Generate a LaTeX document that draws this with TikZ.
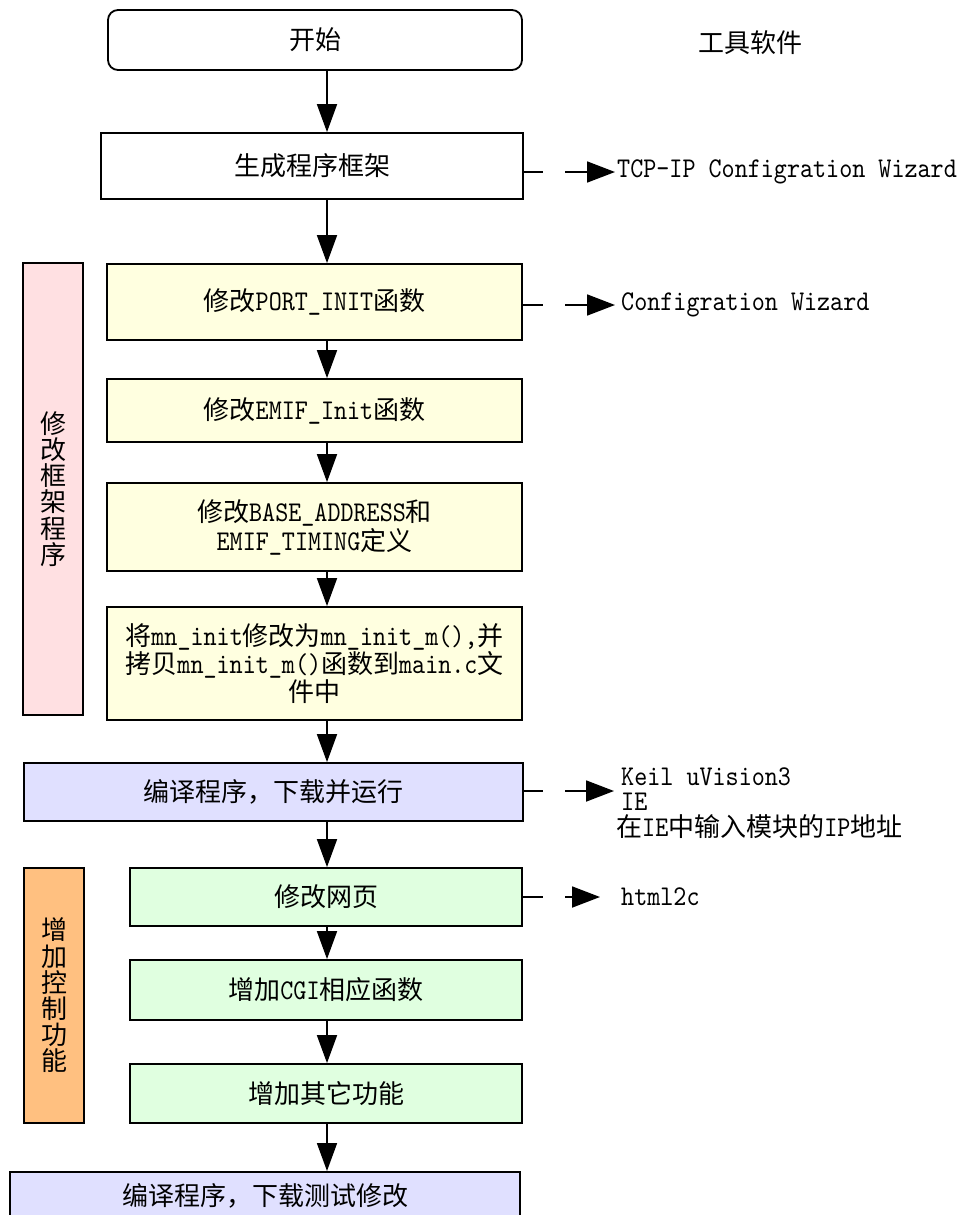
\documentclass[tikz,border=0pt]{standalone}
\usepackage{fontspec}
\setmainfont{Noto Sans CJK SC}
\newfontfamily\monofam[Scale=1.1,FakeStretch=0.87]{lmmono10-regular.otf}
\newcommand\mylat[1]{{\monofam #1}}
\usetikzlibrary{arrows.meta}
\definecolor{cyellow}{HTML}{FFFFE0}
\definecolor{cpink}{HTML}{FFE0E2}
\definecolor{clav}{HTML}{E0E0FF}
\definecolor{cgreen}{HTML}{E0FFE0}
\definecolor{corange}{HTML}{FFC080}
\begin{document}
\begin{tikzpicture}[x=1pt,y=-1pt,
  font=\fontsize{26}{29}\selectfont,
  box/.style={draw, line width=1.8pt, inner sep=0pt, align=center},
  flow/.style={line width=1.8pt, -{Triangle[length=28pt,width=20pt]}},
  tool/.style={line width=1.8pt, -{Triangle[length=28pt,width=21pt]}},
  tick/.style={line width=1.8pt},
  lbl/.style={inner sep=0pt, anchor=west, align=left}]
\useasboundingbox (0,0) rectangle (971,1215);
\clip (0,0) rectangle (971,1215);
\fill[white] (0,0) rectangle (971,1215);

% main column
\node[box, rounded corners=10pt, minimum width=414pt, minimum height=60pt] (start) at (315,40) {开始};
\node[box, minimum width=422pt, minimum height=66pt] (gen) at (312,166) {生成程序框架};
\node[box, fill=cyellow, minimum width=415pt, minimum height=76pt] (port) at (314.5,302) {修改\mylat{PORT\_INIT}函数};
\node[box, fill=cyellow, minimum width=415pt, minimum height=63pt] (emif) at (314.5,410.5) {修改\mylat{EMIF\_Init}函数};
\node[box, fill=cyellow, minimum width=415pt, minimum height=88pt] (base) at (314.5,527) {修改\mylat{BASE\_ADDRESS}和\\\mylat{EMIF\_TIMING}定义};
\node[box, fill=cyellow, minimum width=415pt, minimum height=113pt, font=\fontsize{26}{26.5}\selectfont] (mninit) at (314.5,663.5) {将\mylat{mn\_init}修改为\mylat{mn\_init\_m(),}并\\拷贝\mylat{mn\_init\_m()}函数到\mylat{main.c}文\\件中};
\node[box, fill=clav, minimum width=499pt, minimum height=58pt] (comp1) at (273.5,792) {编译程序，下载并运行};
\node[box, fill=cgreen, minimum width=392pt, minimum height=58pt] (web) at (326,897) {修改网页};
\node[box, fill=cgreen, minimum width=392pt, minimum height=60pt] (cgi) at (326,990) {增加\mylat{CGI}相应函数};
\node[box, fill=cgreen, minimum width=392pt, minimum height=59pt] (other) at (326,1093.5) {增加其它功能};
\node[box, fill=clav, minimum width=510pt, minimum height=50pt, anchor=north] (comp2) at (265,1171) {};
\node[inner sep=0pt] (comp2t) at (265,1196) {编译程序，下载测试修改};

% side groups
\node[box, fill=cpink, minimum width=60pt, minimum height=452pt, font=\fontsize{26}{26.2}\selectfont] (grp1) at (53,489) {修\\改\\框\\架\\程\\序};
\node[box, fill=corange, minimum width=60pt, minimum height=255pt, font=\fontsize{26}{26.2}\selectfont] (grp2) at (54,995.5) {增\\加\\控\\制\\功\\能};

% flow arrows
\coordinate (ax) at (327,0);
\draw[flow] (start.south -| ax) -- (gen.north -| ax);
\draw[flow] (gen.south -| ax) -- (port.north -| ax);
\draw[flow] (port.south -| ax) -- (emif.north -| ax);
\draw[flow] (emif.south -| ax) -- (base.north -| ax);
\draw[flow] (base.south -| ax) -- (mninit.north -| ax);
\draw[flow] (mninit.south -| ax) -- (comp1.north -| ax);
\draw[flow] (comp1.south -| ax) -- (web.north -| ax);
\draw[flow] (web.south -| ax) -- (cgi.north -| ax);
\draw[flow] (cgi.south -| ax) -- (other.north -| ax);
\draw[flow] (other.south -| ax) -- (comp2.north -| ax);

% tools column
\node[inner sep=0pt] (tooltitle) at (750,43) {工具软件};
\node[lbl] (tcp) at (617,172) {\mylat{TCP-IP Configration Wizard}};
\node[lbl] (cw) at (621,305) {\mylat{Configration Wizard}};
\node[lbl, font=\fontsize{26}{25.5}\selectfont] (keil) at (616,803) {\hspace{5pt}\mylat{Keil uVision3}\\\hspace{5pt}\mylat{IE}\\在\mylat{IE}中输入模块的\mylat{IP}地址};
\node[lbl] (html) at (621,897) {\mylat{html2c}};

\coordinate (t1) at (543,172); \coordinate (s1) at (565,172); \coordinate (e1) at (615,172);
\draw[tick] (t1 -| gen.east) -- (t1);
\draw[tool] (s1) -- (e1);
\coordinate (t2) at (543,305); \coordinate (s2) at (565,305); \coordinate (e2) at (615,305);
\draw[tick] (t2 -| port.east) -- (t2);
\draw[tool] (s2) -- (e2);
\coordinate (t3) at (543,791); \coordinate (s3) at (565,791); \coordinate (e3) at (614,791);
\draw[tick] (t3 -| comp1.east) -- (t3);
\draw[tool] (s3) -- (e3);
\coordinate (t4) at (543,897); \coordinate (s4) at (565,897); \coordinate (e4) at (600,897);
\draw[tick] (t4 -| web.east) -- (t4);
\draw[tool] (s4) -- (e4);
\end{tikzpicture}
\end{document}
